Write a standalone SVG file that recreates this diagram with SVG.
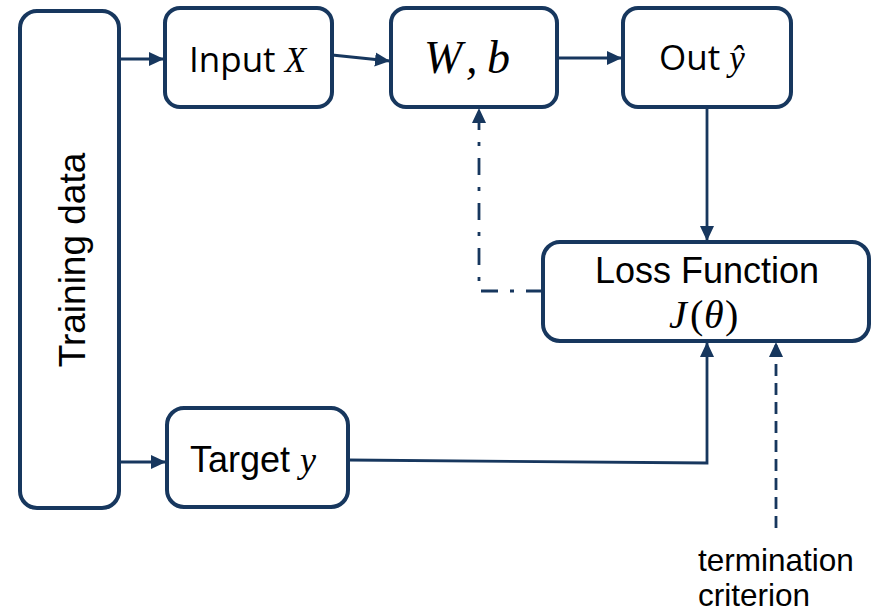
<svg xmlns="http://www.w3.org/2000/svg" width="881" height="613" viewBox="0 0 881 613">
<style>
.box{fill:#fff;stroke:#17375E;stroke-width:4}
.con{fill:none;stroke:#17375E;stroke-width:2.8}
.sans{font-family:"Liberation Sans",Arial,sans-serif;fill:#000}
.ui{font-family:"Open Sans","Noto Sans",sans-serif;fill:#000}
.math{font-family:"Liberation Serif","Times New Roman",serif;font-style:italic;fill:#000}
.up{font-family:"Liberation Serif","Times New Roman",serif;font-style:normal;fill:#000}
</style>
<defs>
<marker id="ah" markerWidth="16" markerHeight="16" refX="15" refY="8" orient="auto" markerUnits="userSpaceOnUse">
<path d="M0,1 L15,8 L0,15 Z" fill="#17375E"/>
</marker>
</defs>
<rect width="881" height="613" fill="#fff"/>
<g id="connectors">
<line class="con" x1="119" y1="59" x2="164" y2="59" marker-end="url(#ah)"/>
<line class="con" x1="332" y1="55" x2="390" y2="61" marker-end="url(#ah)"/>
<line class="con" x1="557" y1="58" x2="622" y2="58" marker-end="url(#ah)"/>
<line class="con" x1="707" y1="107" x2="707" y2="241" marker-end="url(#ah)"/>
<line class="con" x1="119" y1="462" x2="166" y2="462" marker-end="url(#ah)"/>
<polyline class="con" points="348,460 707,463 707,342" marker-end="url(#ah)"/>
<line class="con" x1="776" y1="528" x2="776" y2="342" stroke-dasharray="12,7" marker-end="url(#ah)"/>
<polyline class="con" points="543,291 479,291 479,108" stroke-dasharray="17,12,4,12" marker-end="url(#ah)"/>
</g>
<g id="training">
<rect class="box" x="20" y="11" width="99" height="497" rx="17"/>
<text class="sans" font-size="37" transform="translate(85,260) rotate(-90)" text-anchor="middle">Training data</text>
</g>
<g id="input">
<rect class="box" x="165" y="8" width="167" height="99" rx="15"/>
<text x="189" y="72" font-size="35"><tspan class="ui">Input </tspan><tspan class="math">X</tspan></text>
</g>
<g id="wb">
<rect class="box" x="391" y="8" width="166" height="99" rx="15"/>
<text class="math" y="73" font-size="46"><tspan x="424">W</tspan><tspan x="466">,</tspan><tspan x="487">b</tspan></text>
</g>
<g id="out">
<rect class="box" x="623" y="8" width="168" height="99" rx="15"/>
<text x="659" y="70" font-size="35"><tspan class="ui">Out </tspan><tspan class="math">ŷ</tspan></text>
</g>
<g id="loss">
<rect class="box" x="543" y="242" width="326" height="99" rx="17"/>
<text class="sans" x="707" y="283" font-size="36" text-anchor="middle">Loss Function</text>
<text y="328" font-size="40"><tspan class="math" x="669">J</tspan><tspan class="up" x="690">(</tspan><tspan class="math" x="704">θ</tspan><tspan class="up" x="725">)</tspan></text>
</g>
<g id="target">
<rect class="box" x="167" y="408" width="181" height="99" rx="17"/>
<text x="190" y="472" font-size="36"><tspan class="sans">Target </tspan><tspan class="math">y</tspan></text>
</g>
<g id="termination">
<text class="sans" x="698" y="571" font-size="31.5">termination</text>
<text class="sans" x="698" y="606" font-size="31.5">criterion</text>
</g>
</svg>
